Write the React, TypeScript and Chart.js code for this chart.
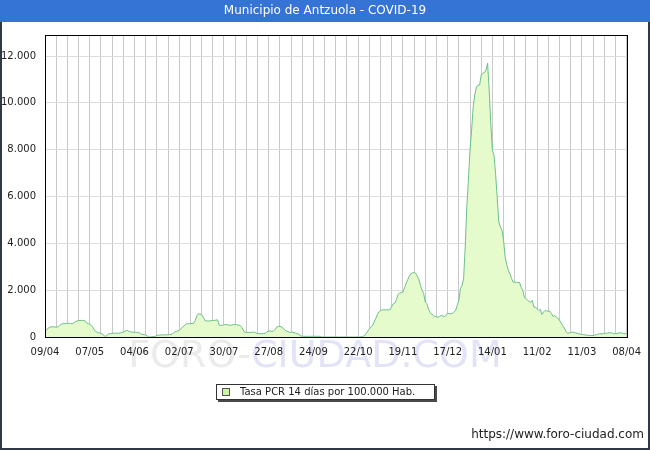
import React, { useEffect, useRef } from 'react';
import { Chart, registerables } from 'chart.js';

Chart.register(...registerables);

const TITLE = 'Municipio de Antzuola - COVID-19';
const SERIES_LABEL = 'Tasa PCR 14 días por 100.000 Hab.';
const FOOTER = 'https://www.foro-ciudad.com';
const WATERMARK_A = 'FORO-';
const WATERMARK_B = 'CIUDAD.COM';

// x tick labels, one every 28 days starting 09/04
const X_TICK_LABELS = ['09/04', '07/05', '04/06', '02/07', '30/07', '27/08', '24/09', '22/10', '19/11', '17/12', '14/01', '11/02', '11/03', '08/04'];
const DAYS_PER_LABEL = 28;
const DAYS_PER_GRID = 7;
const Y_TICKS = [0, 2000, 4000, 6000, 8000, 10000, 12000];
const Y_MAX = 12900;

// daily values (tasa por 100.000 hab.), one row per week
const VALUES: number[] = [
  280, 300, 380, 420, 430, 440, 430,
  420, 430, 480, 540, 565, 570, 575,
  580, 590, 580, 560, 590, 660, 680,
  700, 705, 710, 705, 700, 600, 570,
  540, 490, 420, 280, 230, 180, 175,
  160, 120, 60, 25, 90, 135, 140,
  150, 160, 165, 165, 160, 170, 190,
  205, 250, 280, 260, 230, 215, 200,
  200, 200, 195, 180, 130, 110, 100,
  90, 40, 0, 0, 10, 20, 30,
  64, 80, 85, 90, 90, 90, 95,
  95, 100, 110, 150, 205, 230, 260,
  280, 350, 420, 470, 540, 565, 570,
  570, 575, 580, 700, 900, 993, 980,
  960, 850, 710, 690, 680, 690, 700,
  700, 710, 720, 735, 500, 495, 500,
  520, 535, 530, 510, 500, 510, 530,
  535, 520, 510, 500, 420, 300, 205,
  200, 195, 195, 200, 205, 210, 170,
  150, 140, 137, 140, 150, 160, 230,
  245, 250, 250, 250, 320, 420, 450,
  450, 430, 380, 300, 260, 230, 205,
  200, 200, 190, 160, 140, 120, 40,
  30, 30, 30, 30, 30, 30, 30,
  30, 30, 30, 30, 30, 0, 0,
  0, 0, 0, 0, 0, 0, 0,
  0, 0, 0, 0, 0, 0, 0,
  0, 0, 0, 0, 0, 0, 0,
  0, 0, 10, 30, 60, 150, 250,
  350, 420, 500, 634, 800, 950, 1080,
  1134, 1160, 1160, 1160, 1160, 1160, 1170,
  1300, 1420, 1450, 1600, 1830, 1880, 1890,
  1920, 2100, 2277, 2450, 2600, 2705, 2740,
  2750, 2720, 2600, 2450, 2200, 1990, 1850,
  1490, 1420, 1200, 1061, 970, 930, 877,
  860, 848, 880, 920, 900, 877, 920,
  1020, 1000, 990, 1000, 1080, 1134, 1348,
  1560, 2063, 2200, 2490, 3844, 5555, 6698,
  7982, 8838, 9835, 10336, 10692, 10750, 10764,
  11192, 11265, 11300, 11406, 11693, 10550, 9125,
  7982, 7768, 6985, 5983, 4913, 4700, 4558,
  4130, 3415, 3100, 2846, 2705, 2500, 2345,
  2340, 2335, 2330, 2330, 2131, 1990, 1703,
  1635, 1580, 1520, 1490, 1562, 1275, 1275,
  1200, 1134, 1180, 963, 1061, 1134, 1110,
  1100, 1100, 1000, 877, 920, 850, 805,
  720, 600, 492, 380, 250, 163, 170,
  190, 205, 200, 180, 163, 140, 120,
  107, 100, 90, 80, 70, 64, 64,
  64, 80, 100, 120, 137, 137, 140,
  150, 160, 170, 180, 180, 170, 150,
  137, 150, 170, 180, 175, 150, 137,
  150,
];

const FONT = '"DejaVu Sans", Verdana, sans-serif';
const LINE_COLOR = '#6cbf8c';
const FILL_COLOR = '#e6fbcb';

const fmt = (v: number) => String(v).replace(/\B(?=(\d{3})+(?!\d))/g, '.');

const framePlugin = {
  id: 'frame',
  beforeDraw(chart: any) {
    const { ctx, width, height } = chart;
    ctx.save();
    ctx.fillStyle = '#ffffff';
    ctx.fillRect(0, 0, width, height);
    // watermark
    ctx.font = `38px ${FONT}`;
    ctx.textBaseline = 'alphabetic';
    ctx.textAlign = 'left';
    const w1 = ctx.measureText(WATERMARK_A).width;
    const w2 = ctx.measureText(WATERMARK_B).width;
    const sx = 315 - (w1 + w2) / 2;
    ctx.fillStyle = '#ebebeb';
    ctx.fillText(WATERMARK_A, sx, 367);
    ctx.fillStyle = '#e3e3f8';
    ctx.fillText(WATERMARK_B, sx + w1, 367);
    ctx.restore();
  },
  afterDraw(chart: any) {
    const { ctx, chartArea: a, width, height } = chart;
    ctx.save();
    // plot border
    ctx.strokeStyle = '#000';
    ctx.lineWidth = 1;
    ctx.strokeRect(Math.round(a.left) + 0.5, Math.round(a.top) + 0.5, Math.round(a.right - a.left), Math.round(a.bottom - a.top));

    // legend
    const lx = 216, ly = 384, lw = 218, lh = 15;
    ctx.fillStyle = '#4a4a4a';
    ctx.fillRect(lx + 2, ly + 2, lw + 1, lh + 1);
    ctx.fillStyle = '#ffffff';
    ctx.fillRect(lx, ly, lw, lh);
    ctx.strokeStyle = '#333';
    ctx.strokeRect(lx + 0.5, ly + 0.5, lw, lh);
    ctx.fillStyle = '#ccf5a0';
    ctx.fillRect(222, ly + 4, 7, 7);
    ctx.strokeStyle = '#555';
    ctx.strokeRect(222.5, ly + 4.5, 7, 7);
    ctx.fillStyle = '#222';
    ctx.font = `10px ${FONT}`;
    ctx.textBaseline = 'middle';
    ctx.textAlign = 'left';
    ctx.fillText(chart.data.datasets[0].label, 240, ly + 8.5);

    // footer
    ctx.font = `12px ${FONT}`;
    ctx.textAlign = 'right';
    ctx.fillText(FOOTER, 644, 435);

    // outer border
    ctx.fillStyle = '#303848';
    ctx.fillRect(0, 0, 2, height);
    ctx.fillRect(width - 2, 0, 2, height);
    ctx.fillRect(0, height - 2, width, 2);

    // header band
    ctx.fillStyle = '#3573d5';
    ctx.fillRect(0, 0, width, 22);
    ctx.fillStyle = '#ffffff';
    ctx.font = `12px ${FONT}`;
    ctx.textAlign = 'center';
    ctx.textBaseline = 'middle';
    ctx.fillText(TITLE, width / 2, 11);
    ctx.restore();
  },
};

export default function App() {
  const ref = useRef<HTMLCanvasElement | null>(null);
  useEffect(() => {
    if (!ref.current) return;
    const chart = new Chart(ref.current, {
      type: 'line',
      data: {
        datasets: [
          {
            label: SERIES_LABEL,
            data: VALUES.map((v, i) => ({ x: i, y: v })),
            borderColor: LINE_COLOR,
            backgroundColor: FILL_COLOR,
            fill: 'origin',
            borderWidth: 1,
            pointRadius: 0,
            tension: 0,
          },
        ],
      },
      options: {
        animation: false,
        responsive: false,
        devicePixelRatio: 1,
        layout: { padding: { top: 35, right: 20, left: 0, bottom: 0 } },
        plugins: {
          legend: { display: false },
          title: { display: false },
          tooltip: { enabled: false },
        },
        scales: {
          x: {
            type: 'linear',
            min: 0,
            max: VALUES.length - 1,
            z: 1,
            afterFit: (s: any) => {
              s.height = 113;
            },
            grid: { color: '#c8c8c8', drawTicks: false, lineWidth: 1 },
            border: { display: false },
            ticks: {
              stepSize: DAYS_PER_GRID,
              autoSkip: false,
              maxRotation: 0,
              minRotation: 0,
              includeBounds: false,
              padding: 9,
              color: '#222',
              font: { family: FONT, size: 10 },
              callback: (v: any) => (v % DAYS_PER_LABEL === 0 ? X_TICK_LABELS[v / DAYS_PER_LABEL] : ''),
            },
          },
          y: {
            type: 'linear',
            min: 0,
            max: Y_MAX,
            z: 1,
            afterBuildTicks: (s: any) => {
              s.ticks = Y_TICKS.map((v) => ({ value: v }));
            },
            afterFit: (s: any) => {
              s.width = 45;
            },
            grid: { color: '#dcdcdc', drawTicks: false, lineWidth: 1 },
            border: { display: false },
            ticks: {
              autoSkip: false,
              padding: 9,
              color: '#222',
              font: { family: FONT, size: 10 },
              callback: (v: any) => fmt(v),
            },
          },
        },
      },
      plugins: [framePlugin],
    } as any);
    return () => chart.destroy();
  }, []);

  return (
    <div style={{ position: 'fixed', left: 0, top: 0, width: 650, height: 450, background: '#fff' }}>
      <canvas ref={ref} width={650} height={450} style={{ display: 'block', width: 650, height: 450 }} />
    </div>
  );
}
